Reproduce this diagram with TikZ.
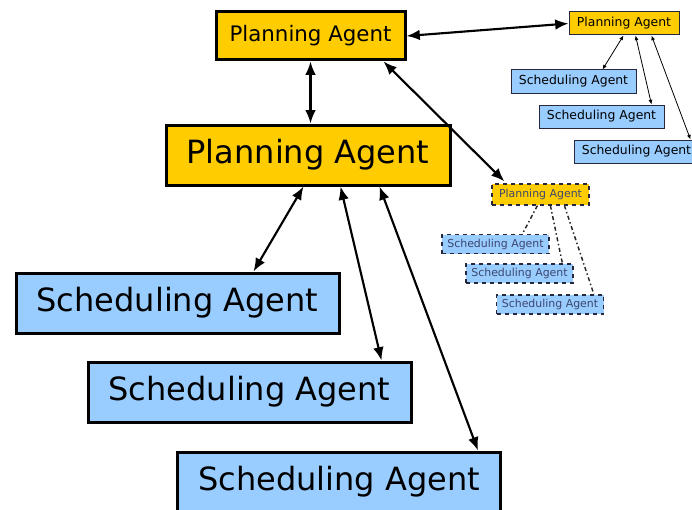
\documentclass[tikz,border=0pt]{standalone}
\usepackage{fontspec}
\setmainfont{DejaVu Sans}
\usetikzlibrary{calc,arrows.meta}
\definecolor{planyellow}{RGB}{255,204,0}
\definecolor{schedblue}{RGB}{153,204,255}
\definecolor{smallborder}{RGB}{40,40,60}
\definecolor{dottext}{RGB}{60,70,110}

\begin{document}
\begin{tikzpicture}[x=0.75pt,y=-0.75pt,
    planbox/.style={draw=black,line width=2.25pt,fill=planyellow,inner sep=0pt},
    schedbox/.style={draw=black,line width=2.25pt,fill=schedblue,inner sep=0pt},
    bigtext/.style={font=\fontsize{24}{28}\selectfont},
    smallbox/.style={draw=smallborder,line width=0.75pt,inner sep=0pt,
        minimum height=17.25pt,font=\fontsize{9.3}{11}\selectfont},
    dotbox/.style={draw=smallborder,dashed,line width=0.9pt,inner sep=0pt,
        text=dottext,font=\fontsize{8.2}{10}\selectfont},
    link/.style={<->,line width=1.6pt,>={Latex[length=10pt,width=8pt]}},
    smalllink/.style={<->,line width=0.6pt,>={Latex[length=3.5pt,width=3pt]}},
    dotlink/.style={line width=1.1pt,dash dot,draw=black!85}]
    \useasboundingbox (0,0) rectangle (692,510);
    \clip (0,0) rectangle (692,510);
    % Big hierarchy
    \node[planbox,minimum width=141.75pt,minimum height=36pt,font=\fontsize{16}{19}\selectfont]
        (topplan) at (310.5,36) {Planning Agent};
    \node[planbox,bigtext,minimum width=213pt,minimum height=45pt] (midplan) at (308,155) {Planning Agent};
    \node[schedbox,bigtext,minimum width=242.25pt,minimum height=45pt] (sched1) at (177.5,303) {Scheduling Agent};
    \node[schedbox,bigtext,minimum width=242.25pt,minimum height=45pt] (sched2) at (249.5,392) {Scheduling Agent};
    \node[schedbox,bigtext,minimum width=242.25pt,minimum height=45pt] (sched3) at (339,482) {Scheduling Agent};
    % Small hierarchy
    \node[smallbox,fill=planyellow,minimum width=82.5pt] (smplan) at (624,23.5) {Planning Agent};
    \node[smallbox,fill=schedblue,minimum width=93.75pt] (smsched1) at (573.5,81.5) {Scheduling Agent};
    \node[smallbox,fill=schedblue,minimum width=93.75pt] (smsched2) at (601.5,116.5) {Scheduling Agent};
    \node[smallbox,fill=schedblue,minimum width=93.75pt] (smsched3) at (636.5,151.5) {Scheduling Agent};
    % Dotted hierarchy
    \node[dotbox,fill=planyellow,minimum width=72.75pt,minimum height=15.75pt] (dotplan) at (540.5,194.5) {Planning Agent};
    \node[dotbox,fill=schedblue,minimum width=80.25pt,minimum height=14.25pt] (dotsched1) at (495.5,244) {Scheduling Agent};
    \node[dotbox,fill=schedblue,minimum width=80.25pt,minimum height=14.25pt] (dotsched2) at (519.5,273.5) {Scheduling Agent};
    \node[dotbox,fill=schedblue,minimum width=80.25pt,minimum height=14.25pt] (dotsched3) at (550,304.5) {Scheduling Agent};
    % Big links
    \draw[link] (topplan.east) -- (smplan.west);
    \draw[link] (topplan.south) -- (topplan.south |- midplan.north);
    \draw[link] ($(topplan.south west)+(169,0)$) -- ($(dotplan.north west)+(13,-2)$);
    \draw[link] ($(midplan.south west)+(139,0)$) -- ($(sched1.north west)+(239,0)$);
    \draw[link] ($(midplan.south west)+(176,0)$) -- ($(sched2.north west)+(295,0)$);
    \draw[link] ($(midplan.south west)+(215,0)$) -- ($(sched3.north west)+(302,0)$);
    % Small links
    \draw[smalllink] ($(smplan.south west)+(55,0)$) -- ($(smsched1.north west)+(92,0)$);
    \draw[smalllink] ($(smplan.south west)+(67,0)$) -- ($(smsched2.north west)+(113,0)$);
    \draw[smalllink] ($(smplan.south west)+(83,0)$) -- ($(smsched3.north west)+(117,0)$);
    % Dotted links
    \draw[dotlink] ($(dotplan.south west)+(46,0)$) -- ($(dotsched1.north west)+(81,0)$);
    \draw[dotlink] ($(dotplan.south west)+(59,0)$) -- ($(dotsched2.north west)+(97,0)$);
    \draw[dotlink] ($(dotplan.south west)+(73,0)$) -- ($(dotsched3.north west)+(98,0)$);
\end{tikzpicture}
\end{document}
